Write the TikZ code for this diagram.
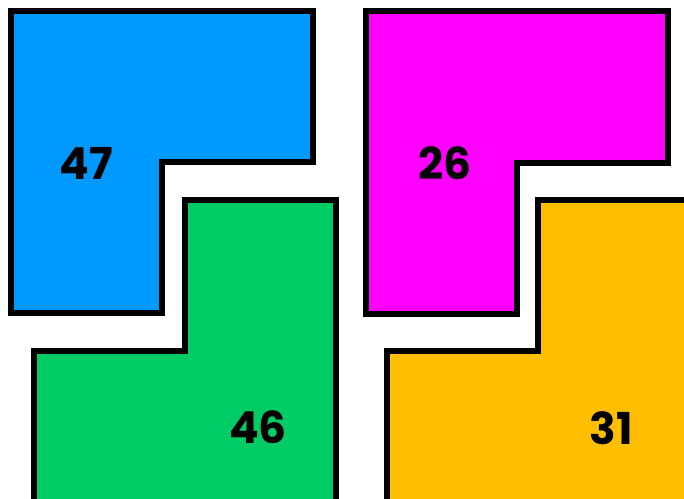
\documentclass[tikz,border=0pt]{standalone}
\usepackage{fontspec}
\newfontfamily\numfont{Poppins}
\definecolor{pieceBlue}{HTML}{0099FF}
\definecolor{pieceMagenta}{HTML}{FF00FF}
\definecolor{pieceGreen}{HTML}{00CC66}
\definecolor{pieceYellow}{HTML}{FFBF00}

\begin{document}
\begin{tikzpicture}[x=1pt, y=-1pt, piece/.style={draw=black, line width=6pt, miter limit=10},
    num/.style={font=\numfont\bfseries\fontsize{44}{44}\selectfont, text=black, inner sep=0pt}]
    \useasboundingbox (0,0) rectangle (684,498);
    \clip (0,0) rectangle (684,498);
    % --- top row: two L pieces ---
    \draw[piece, fill=pieceBlue] (11,11) -- (313,11) -- (313,162) -- (162,162) -- (162,313) -- (11,313) -- cycle;
    \draw[piece, fill=pieceMagenta] (366,11) -- (668,11) -- (668,163) -- (517,163) -- (517,314) -- (366,314) -- cycle;
    % --- bottom row: pieces running off the edge ---
    \draw[piece, fill=pieceGreen] (185,200) -- (336,200) -- (336,520) -- (34,520) -- (34,351) -- (185,351) -- cycle;
    \draw[piece, fill=pieceYellow] (538,200) -- (710,200) -- (710,520) -- (387,520) -- (387,351) -- (538,351) -- cycle;
    % --- numbers ---
    \node[num] (n47) at (86,163) {47};
    \node[num] (n26) at (445,163) {26};
    \node[num] (n46) at (258,427) {46};
    \node[num] (n31) at (611,428) {31};
\end{tikzpicture}
\end{document}
